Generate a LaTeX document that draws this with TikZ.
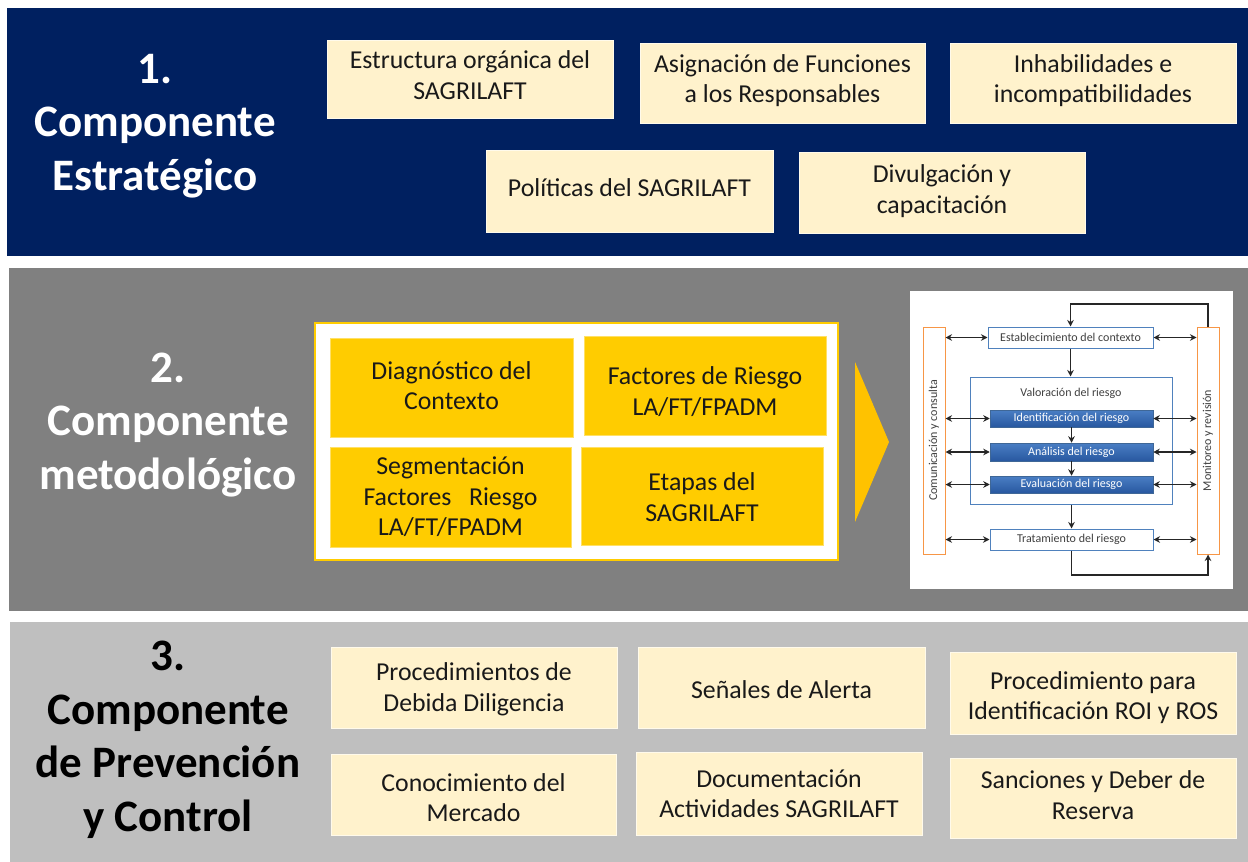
\documentclass[tikz,border=0pt]{standalone}
\usepackage{fontspec}
\setmainfont{Carlito}
\usetikzlibrary{arrows.meta}
\definecolor{navy}{RGB}{0,32,96}
\definecolor{midgray}{RGB}{128,128,128}
\definecolor{lightgray}{RGB}{191,191,191}
\definecolor{creamc}{RGB}{255,242,204}
\definecolor{goldc}{RGB}{255,204,0}
\definecolor{chev}{RGB}{255,194,0}
\definecolor{orangec}{RGB}{247,150,70}
\definecolor{bluec}{RGB}{79,129,189}
\definecolor{bluetop}{RGB}{74,126,196}
\definecolor{bluebot}{RGB}{40,88,160}
\definecolor{txtc}{RGB}{25,25,25}
\definecolor{dtxt}{RGB}{64,64,64}
\begin{document}
\begin{tikzpicture}[x=1pt,y=-1pt,
  cream/.style={rectangle, fill=creamc, draw=white!60!creamc, line width=0.8pt, inner sep=0pt},
  gold/.style={rectangle, fill=goldc, draw=white!40!goldc, line width=0.6pt, inner sep=0pt},
  btext/.style={inner sep=0pt, align=center, text=txtc, font=\fontsize{25.8}{30.5}\selectfont},
  title/.style={align=center, font=\bfseries\fontsize{45}{53.5}\selectfont},
  obox/.style={rectangle, draw=orangec, fill=white, line width=1pt, inner sep=0pt, minimum width=22pt, minimum height=227pt},
  stext/.style={text=dtxt, font=\fontsize{12}{13}\selectfont},
  wbox/.style={rectangle, draw=bluec, fill=white, line width=1pt, inner sep=0pt, text=dtxt, font=\fontsize{12}{13}\selectfont},
  bbox/.style={rectangle, draw=bluec!80!black, top color=bluetop, bottom color=bluebot, line width=0.5pt, inner sep=0pt, minimum width=163pt, text=white, font=\fontsize{12}{13}\selectfont},
  arr/.style={draw=black!85, line width=1.3pt, -{Stealth[length=6.5pt,width=6.5pt]}},
  darr/.style={draw=black!85, line width=1.3pt, {Stealth[length=6.5pt,width=6.5pt]}-{Stealth[length=6.5pt,width=6.5pt]}}
]
\useasboundingbox (0,0) rectangle (1248,862);
\fill[white] (0,0) rectangle (1248,862);

% bands
\fill[navy] (7,8) rectangle (1248,256);
\fill[midgray] (9,268) rectangle (1248,611);
\fill[lightgray] (10,622) rectangle (1248,862);

% titles
\node[title, text=white] (t1) at (155,126) {1.\\Componente\\Estratégico};
\node[title, text=white] (t2) at (168,425) {2.\\Componente\\metodológico};
\node[title, text=black] (t3) at (168,740) {3.\\Componente\\de Prevención\\y Control};

% section 1 boxes
\node[cream, minimum width=286pt, minimum height=78pt] (s1a) at (470,79) {};
\node[btext] (s1aT) at (470,75) {Estructura orgánica del\\SAGRILAFT};
\node[cream, minimum width=285pt, minimum height=80pt] (s1b) at (782.5,83) {};
\node[btext] (s1bT) at (782.5,80.5) {Asignación de Funciones\\a los Responsables};
\node[cream, minimum width=286pt, minimum height=80pt] (s1c) at (1093,83) {};
\node[btext] (s1cT) at (1093,80.5) {Inhabilidades e\\incompatibilidades};
\node[cream, minimum width=287pt, minimum height=82pt] (s1d) at (629.5,191) {};
\node[btext] (s1dT) at (629.5,188) {Políticas del SAGRILAFT};
\node[cream, minimum width=286pt, minimum height=81pt] (s1e) at (942,192.5) {};
\node[btext] (s1eT) at (942,191) {Divulgación y\\capacitación};

% section 2 panel
\node[rectangle, fill=white, draw=goldc, line width=1.2pt, minimum width=523pt, minimum height=237pt, inner sep=0pt] (panel) at (576.5,441.5) {};
\node[gold, minimum width=243pt, minimum height=99pt] (g1) at (451.5,387.5) {};
\node[btext] (g1T) at (451.5,385.5) {Diagnóstico del\\Contexto};
\node[gold, minimum width=242pt, minimum height=99pt] (g2) at (705,385.5) {};
\node[btext] (g2T) at (705,391.5) {Factores de Riesgo\\LA/FT/FPADM};
\node[gold, minimum width=241pt, minimum height=100pt] (g3) at (450.5,497) {};
\node[btext] (g3T) at (450.5,497) {Segmentación\\Factores~~~Riesgo\\LA/FT/FPADM};
\node[gold, minimum width=242pt, minimum height=98pt] (g4) at (702,496) {};
\node[btext] (g4T) at (702,497) {Etapas del\\SAGRILAFT};
\fill[chev] (855,362) -- (889,442) -- (855,522) -- cycle;

% risk process figure
\node[rectangle, fill=white, minimum width=323pt, minimum height=298pt, inner sep=0pt] (fig) at (1071.5,440) {};
\node[obox] (cc) at (934,440.5) {};
\node[stext, rotate=90] (ccT) at (cc.center) {Comunicación y consulta};
\node[obox] (mr) at (1208,440.5) {};
\node[stext, rotate=90] (mrT) at (mr.center) {Monitoreo y revisión};
\node[wbox, minimum width=165pt, minimum height=21pt] (est) at (1070.5,337.5) {Establecimiento del contexto};
\node[wbox, minimum width=202pt, minimum height=127pt] (val) at (1071,440.5) {};
\node[stext] (valt) at (1071,393) {Valoración del riesgo};
\node[bbox, minimum height=17pt] (idr) at (1071.5,418.5) {Identificación del riesgo};
\node[bbox, minimum height=18pt] (anr) at (1071.5,452) {Análisis del riesgo};
\node[bbox, minimum height=17pt] (evr) at (1071.5,484.5) {Evaluación del riesgo};
\node[wbox, minimum width=163pt, minimum height=21pt] (tr) at (1071.5,539.5) {Tratamiento del riesgo};

\coordinate (topc) at (1070.5,304);
\coordinate (botc) at (1140,575);
\draw[arr] (mr.north) |- (topc) -- (est.north);
\draw[arr] (tr.south) |- (botc) -| (mr.south);
\draw[arr] (est.south) -- (val.north -| est.south);
\draw[arr] (idr.south) -- (anr.north);
\draw[arr] (anr.south) -- (evr.north);
\draw[arr] (val.south -| tr.north) -- (tr.north);
\foreach \n in {est,idr,anr,evr,tr}{
  \draw[darr] (cc.east |- \n.west) -- (\n.west);
  \draw[darr] (\n.east) -- (mr.west |- \n.east);
}

% section 3 boxes
\node[cream, minimum width=286pt, minimum height=81pt] (b1) at (474,687.5) {};
\node[btext] (b1T) at (474,689.5) {Procedimientos de\\Debida Diligencia};
\node[cream, minimum width=287pt, minimum height=81pt] (b2) at (781.5,687.5) {};
\node[btext] (b2T) at (781.5,689.5) {Señales de Alerta};
\node[cream, minimum width=286pt, minimum height=82pt] (b3) at (1093,693) {};
\node[btext] (b3T) at (1093,697.5) {Procedimiento para\\Identificación ROI y ROS};
\node[cream, minimum width=285pt, minimum height=81pt] (b4) at (473.5,794.5) {};
\node[btext] (b4T) at (473.5,797.5) {Conocimiento del\\Mercado};
\node[cream, minimum width=286pt, minimum height=83pt] (b5) at (779,793.5) {};
\node[btext] (b5T) at (779,793.5) {Documentación\\Actividades SAGRILAFT};
\node[cream, minimum width=286pt, minimum height=80pt] (b6) at (1093,798) {};
\node[btext] (b6T) at (1093,795) {Sanciones y Deber de\\Reserva};
\end{tikzpicture}
\end{document}
